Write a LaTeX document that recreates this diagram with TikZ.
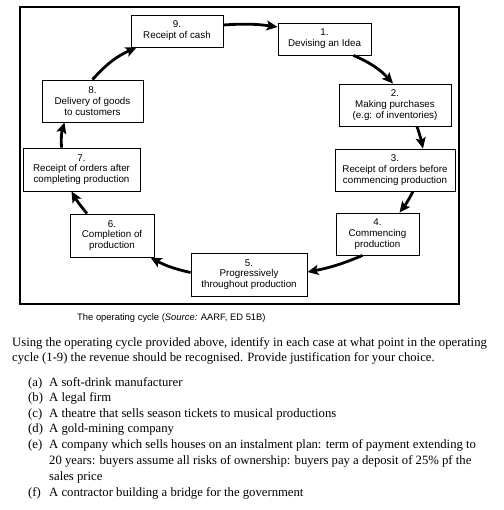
\documentclass[tikz,border=0pt]{standalone}
\usepackage{fontspec}
\setmainfont{Liberation Serif}
\setsansfont{Liberation Sans}
\usetikzlibrary{arrows.meta,calc}
\begin{document}
\begin{tikzpicture}[x=1pt,y=-1pt,
  box/.style={draw,line width=0.9pt,fill=white,align=center,inner sep=0pt,
    font=\sffamily\fontsize{9.8}{10.8}\selectfont},
  arr/.style={line width=2.8pt,-{Stealth[length=11pt,width=10pt,inset=2.5pt]}},
  para/.style={anchor=base west,inner sep=0pt,font=\fontsize{12.7}{14}\selectfont},
  captext/.style={anchor=base west,inner sep=0pt,font=\sffamily\fontsize{9.4}{10}\selectfont}]
\useasboundingbox (0,0) rectangle (503,510);
\node[draw,line width=1.3pt,minimum width=439,minimum height=297,inner sep=0pt] (frame) at (239.5,155.5) {};
\node[box,minimum width=92,minimum height=32] (n9) at (177,31) {9.\\Receipt of cash};
\node[box,minimum width=93,minimum height=32] (n1) at (324.5,39) {1.\\Devising an Idea};
\node[box,minimum width=112,minimum height=42] (n2) at (395,105) {2.\\Making purchases\\(e.g: of inventories)};
\node[box,minimum width=101,minimum height=42] (n8) at (92.5,101) {8.\\Delivery of goods\\to customers};
\node[box,minimum width=117,minimum height=43] (n7) at (81.5,169.5) {7.\\Receipt of orders after\\completing production};
\node[box,minimum width=120,minimum height=42] (n3) at (395,170) {3.\\Receipt of orders before\\commencing production};
\node[box,minimum width=84,minimum height=43] (n6) at (112,235.5) {6.\\Completion of\\production};
\node[box,minimum width=83,minimum height=42] (n4) at (377.5,234) {4.\\Commencing\\production};
\node[box,minimum width=116,minimum height=43] (n5) at (249,274.5) {5.\\Progressively\\throughout production};
\draw[arr] ($(n9.east)+(0,-6)$) to[bend left=6] ($(n1.west)+(0,-12)$);
\draw[arr] ($(n1.south)+(29,0)$) to[bend left=12] ($(n2.north)+(-2,0)$);
\draw[arr] ($(n2.south)+(22,0)$) to[bend left=3] ($(n3.north)+(28,0)$);
\draw[arr] ($(n3.south)+(18,0)$) to[bend left=5] ($(n4.north)+(22,0)$);
\draw[arr] ($(n4.south)+(-15,0)$) to[bend left=6] ($(n5.east)+(0,-2.5)$);
\draw[arr] ($(n5.west)+(0,-2)$) to[bend left=8] ($(n6.south east)+(-4,0)$);
\draw[arr] ($(n6.north)+(-25,0)$) to[bend left=5] ($(n7.south)+(-10,0)$);
\draw[arr] ($(n7.north)+(-20,0)$) to[bend left=10] ($(n8.south)+(-28,0)$);
\draw[arr] (n8.north) to[bend left=12] ($(n9.south west)+(6,0)$);
\node[captext] (caption) at (77,320) {The operating cycle (\textit{Source:} AARF, ED 51B)};
\node[para] (p1) at (12,346) {Using the operating cycle provided above, identify in each case at what point in the operating};
\node[para] (p2) at (12,361) {cycle (1-9) the revenue should be recognised. Provide justification for your choice.};
\node[para] (la) at (28,386) {(a)};
\node[para] (ta) at (49,386) {A soft-drink manufacturer};
\node[para] (lb) at (28,401.5) {(b)};
\node[para] (tb) at (49,401.5) {A legal firm};
\node[para] (lc) at (28,417) {(c)};
\node[para] (tc) at (49,417) {A theatre that sells season tickets to musical productions};
\node[para] (ld) at (28,432.5) {(d)};
\node[para] (td) at (49,432.5) {A gold-mining company};
\node[para] (le) at (28,448) {(e)};
\node[para] (te1) at (49,448) {A company which sells houses on an instalment plan: term of payment extending to};
\node[para] (te2) at (49,464) {20 years: buyers assume all risks of ownership: buyers pay a deposit of 25\% pf the};
\node[para] (te3) at (49,480) {sales price};
\node[para] (lf) at (28,496) {(f)};
\node[para] (tf) at (49,496) {A contractor building a bridge for the government};
\end{tikzpicture}
\end{document}
